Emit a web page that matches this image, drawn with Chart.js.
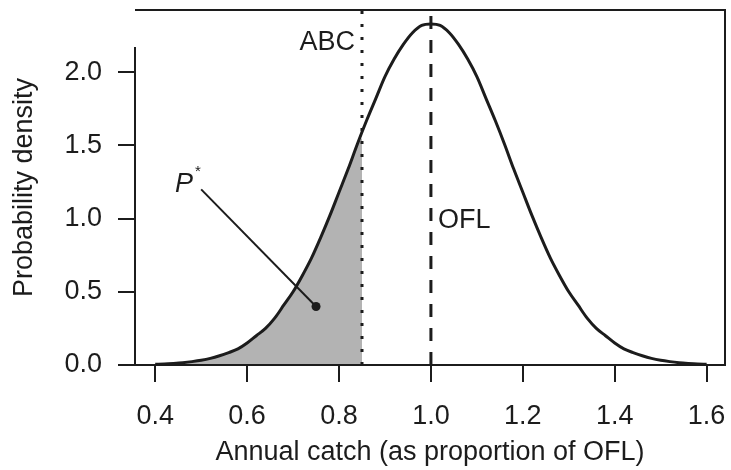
<!DOCTYPE html>
<html>
<head>
<meta charset="utf-8">
<script src="https://cdn.jsdelivr.net/npm/chart.js@4.4.1/dist/chart.umd.min.js"></script>
<style>
    html, body { margin: 0; padding: 0; background: #fff; }
    #wrap { width: 731px; height: 470px; }
</style>
</head>
<body>
<div id="wrap"><canvas id="densityChart" width="731" height="470"></canvas></div>
<script>
// Values
const catchValues = [
    0.40, 0.42, 0.44, 0.46, 0.48, 0.50, 0.52, 0.54, 0.56, 0.58,
    0.60, 0.62, 0.64, 0.66, 0.68, 0.70, 0.72, 0.74, 0.76, 0.78,
    0.80, 0.82, 0.84, 0.86, 0.88, 0.90, 0.92, 0.94, 0.96, 0.98,
    1.00, 1.02, 1.04, 1.06, 1.08, 1.10, 1.12, 1.14, 1.16, 1.18,
    1.20, 1.22, 1.24, 1.26, 1.28, 1.30, 1.32, 1.34, 1.36, 1.38,
    1.40, 1.42, 1.44, 1.46, 1.48, 1.50, 1.52, 1.54, 1.56, 1.58, 1.60
];
const densityValues = [
    0.005, 0.007, 0.011, 0.016, 0.023, 0.032, 0.045, 0.063, 0.085, 0.11,
    0.15, 0.20, 0.25, 0.32, 0.41, 0.50, 0.61, 0.73, 0.87, 1.02,
    1.18, 1.34, 1.51, 1.67, 1.82, 1.97, 2.09, 2.19, 2.27, 2.32,
    2.33, 2.32, 2.27, 2.19, 2.09, 1.97, 1.82, 1.67, 1.51, 1.34,
    1.18, 1.02, 0.87, 0.73, 0.61, 0.50, 0.41, 0.32, 0.25, 0.20,
    0.15, 0.11, 0.085, 0.063, 0.045, 0.032, 0.023, 0.016, 0.011, 0.007, 0.005
];
const xTicks = [0.4, 0.6, 0.8, 1.0, 1.2, 1.4, 1.6];
const yTicks = [0.0, 0.5, 1.0, 1.5, 2.0];

const abcCatch = 0.85;      // dotted line
const abcDensity = 1.55;    // top of shaded area
const oflCatch = 1.0;       // dashed line
const pointerX = [0.50, 0.75];
const pointerY = [1.20, 0.40];

const xMin = 0.356, xMax = 1.64;
const yMin = 0, yMax = 2.425;

const ink = '#1c1c1c';
const fontFamily = '"Liberation Sans", Arial, sans-serif';
const fontSize = 27;

// Build point lists from the arrays
const curvePoints = catchValues.map((c, i) => ({ x: c, y: densityValues[i] }));
const shadePoints = curvePoints.filter(p => p.x < abcCatch);
shadePoints.push({ x: abcCatch, y: abcDensity });

function vertical(v) {
    return [{ x: v, y: yMin }, { x: v, y: yMax }];
}

// Frame and text labels
const frameAndLabels = {
    id: 'frameAndLabels',
    afterDraw(chart) {
        const { ctx, chartArea: a, scales: { x, y } } = chart;
        ctx.save();
        ctx.strokeStyle = ink;
        ctx.lineWidth = 2;
        ctx.beginPath();
        ctx.moveTo(a.left, a.top + 37);
        ctx.lineTo(a.left, a.bottom);
        ctx.lineTo(a.right, a.bottom);
        ctx.lineTo(a.right, a.top);
        ctx.lineTo(a.left, a.top);
        ctx.stroke();

        ctx.fillStyle = ink;
        ctx.font = fontSize + 'px ' + fontFamily;
        ctx.textBaseline = 'middle';
        ctx.textAlign = 'right';
        ctx.fillText('ABC', x.getPixelForValue(abcCatch) - 7, y.getPixelForValue(2.2));
        ctx.textAlign = 'left';
        ctx.fillText('OFL', x.getPixelForValue(oflCatch) + 7, y.getPixelForValue(0.99));

        const px = x.getPixelForValue(0.443);
        const py = y.getPixelForValue(1.23);
        ctx.font = 'italic ' + fontSize + 'px ' + fontFamily;
        ctx.fillText('P', px, py);
        const pw = ctx.measureText('P').width;
        ctx.font = '15px ' + fontFamily;
        ctx.fillText('*', px + pw + 2, py - 13);
        ctx.restore();
    }
};

const ctx = document.getElementById('densityChart').getContext('2d');
new Chart(ctx, {
    type: 'scatter',
    data: {
        datasets: [
            {
                data: shadePoints,
                showLine: true,
                fill: 'origin',
                backgroundColor: '#b3b3b3',
                borderWidth: 0,
                pointRadius: 0,
                cubicInterpolationMode: 'monotone',
                order: 10
            },
            {
                data: vertical(abcCatch),
                showLine: true,
                borderColor: ink,
                borderWidth: 3,
                borderDash: [3, 10],
                pointRadius: 0,
                order: 5
            },
            {
                data: vertical(oflCatch),
                showLine: true,
                borderColor: ink,
                borderWidth: 3,
                borderDash: [13, 11],
                pointRadius: 0,
                order: 5
            },
            {
                data: curvePoints,
                showLine: true,
                borderColor: ink,
                borderWidth: 3,
                pointRadius: 0,
                cubicInterpolationMode: 'monotone',
                order: 1
            },
            {
                data: pointerX.map((v, i) => ({ x: v, y: pointerY[i] })),
                showLine: true,
                borderColor: ink,
                borderWidth: 2,
                pointRadius: [0, 4.5],
                pointBackgroundColor: ink,
                pointBorderWidth: 0,
                order: 0
            }
        ]
    },
    options: {
        responsive: false,
        animation: false,
        devicePixelRatio: 1,
        layout: { padding: { top: 10, right: 6, left: 0, bottom: 0 } },
        plugins: {
            legend: { display: false },
            tooltip: { enabled: false }
        },
        scales: {
            x: {
                type: 'linear',
                min: xMin,
                max: xMax,
                afterBuildTicks: s => { s.ticks = xTicks.map(v => ({ value: v })); },
                afterFit: s => {
                    s.height = 105;
                    s.paddingLeft = 0;
                    s.paddingRight = 0;
                },
                ticks: {
                    autoSkip: false,
                    maxRotation: 0,
                    padding: 18,
                    color: ink,
                    font: { size: fontSize, family: fontFamily },
                    callback: v => v.toFixed(1)
                },
                grid: { drawOnChartArea: false, tickLength: 17, color: ink, lineWidth: 2 },
                border: { display: false },
                title: {
                    display: true,
                    text: 'Annual catch (as proportion of OFL)',
                    color: ink,
                    font: { size: fontSize, family: fontFamily },
                    padding: { top: 0, bottom: 1 }
                }
            },
            y: {
                type: 'linear',
                min: yMin,
                max: yMax,
                afterBuildTicks: s => { s.ticks = yTicks.map(v => ({ value: v })); },
                afterFit: s => {
                    s.width = 135;
                    s.paddingTop = 0;
                    s.paddingBottom = 0;
                },
                ticks: {
                    padding: 16,
                    color: ink,
                    font: { size: fontSize, family: fontFamily },
                    callback: v => v.toFixed(1)
                },
                grid: { drawOnChartArea: false, tickLength: 17, color: ink, lineWidth: 2 },
                border: { display: false },
                title: {
                    display: true,
                    text: 'Probability density',
                    color: ink,
                    font: { size: fontSize, family: fontFamily },
                    padding: { top: 8, bottom: 0 }
                }
            }
        }
    },
    plugins: [frameAndLabels]
});
</script>
</body>
</html>
